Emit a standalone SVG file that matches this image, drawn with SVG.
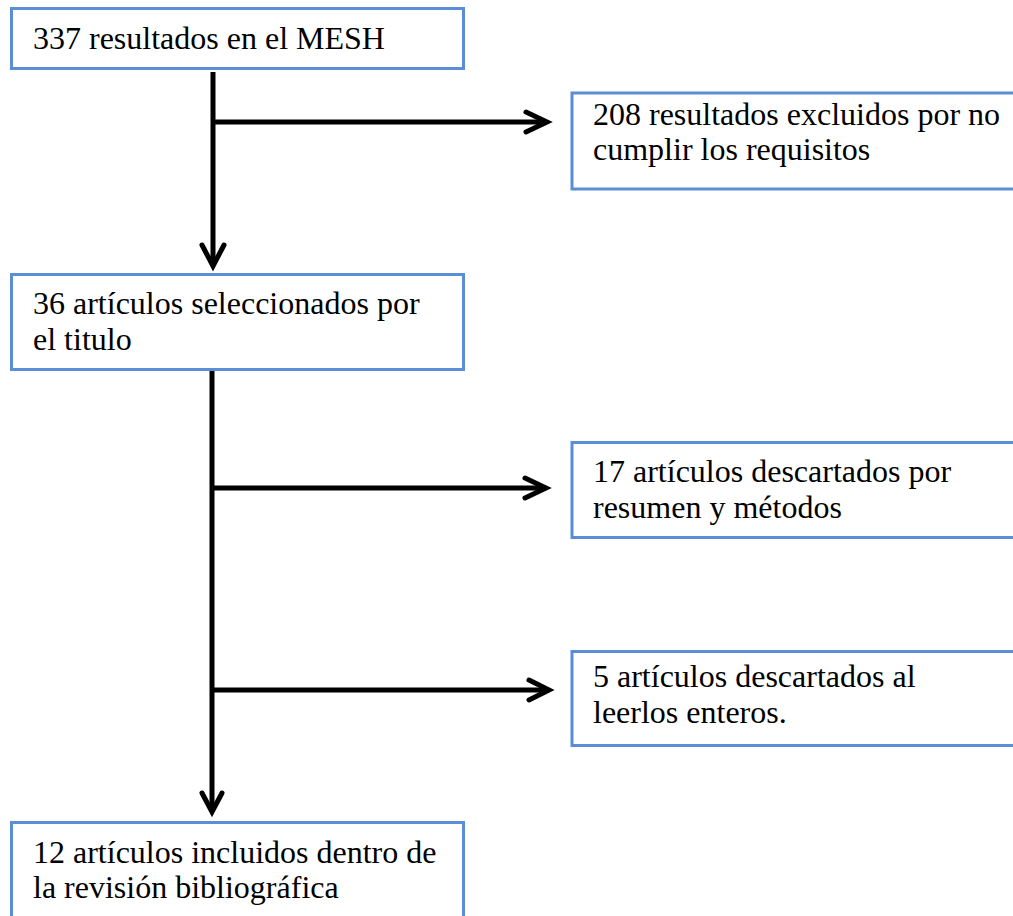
<svg xmlns="http://www.w3.org/2000/svg" width="1013" height="916" viewBox="0 0 1013 916">
<style>
.box{fill:#fff;stroke:#5b8ed6;stroke-width:3}
.t{font-size:32px;fill:#000}
.ln{stroke:#000;stroke-width:5;fill:none}
.hd{stroke:#000;stroke-width:5;fill:none;stroke-linecap:round;stroke-linejoin:miter}
</style>
<rect width="1013" height="916" fill="#fff"/>
<g id="connectors">
<line class="ln" x1="213" y1="72" x2="213" y2="265"/>
<path class="hd" d="M202,245 L213,266 L224,245"/>
<line class="ln" x1="213" y1="122" x2="545" y2="122"/>
<path class="hd" d="M526,112 L547,122 L526,132"/>
<line class="ln" x1="212" y1="370" x2="212" y2="811"/>
<path class="hd" d="M202,793 L212,812 L222,793"/>
<line class="ln" x1="212" y1="488" x2="545" y2="488"/>
<path class="hd" d="M525,478 L546,488 L525,498"/>
<line class="ln" x1="214" y1="690" x2="548" y2="690"/>
<path class="hd" d="M529,680 L549,690 L529,700"/>
</g>
<g font-family="'Liberation Serif', 'Times New Roman', 'DejaVu Serif', serif">
<g id="n1">
<rect class="box" x="11.5" y="8.5" width="452" height="60"/>
<text class="t" x="33" y="49">337 resultados en el MESH</text>
</g>
<g id="n2">
<rect class="box" x="572" y="93" width="460" height="96"/>
<text class="t" x="593" y="125">208 resultados excluidos por no</text>
<text class="t" x="593" y="160">cumplir los requisitos</text>
</g>
<g id="n3">
<rect class="box" x="11.5" y="274.5" width="452" height="95"/>
<text class="t" x="33" y="314">36 artículos seleccionados por</text>
<text class="t" x="33" y="350">el titulo</text>
</g>
<g id="n4">
<rect class="box" x="572" y="442.5" width="460" height="95"/>
<text class="t" x="593" y="482">17 artículos descartados por</text>
<text class="t" x="593" y="518">resumen y métodos</text>
</g>
<g id="n5">
<rect class="box" x="572" y="651.5" width="460" height="94"/>
<text class="t" x="593" y="687">5 artículos descartados al</text>
<text class="t" x="593" y="723">leerlos enteros.</text>
</g>
<g id="n6">
<rect class="box" x="11.5" y="822.5" width="452" height="120"/>
<text class="t" x="33" y="863">12 artículos incluidos dentro de</text>
<text class="t" x="33" y="898">la revisión bibliográfica</text>
</g>
</g>
</svg>
